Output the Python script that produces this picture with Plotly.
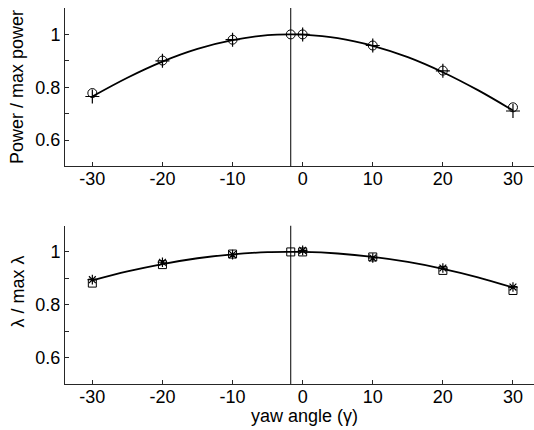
import plotly.graph_objects as go
from plotly.subplots import make_subplots

# Measured yaw angles (degrees) and normalised results
yaw = [-30, -20, -10, 0, 10, 20, 30]
power_circle = [0.778, 0.901, 0.980, 1.000, 0.958, 0.863, 0.724]
power_plus = [0.765, 0.900, 0.980, 1.000, 0.958, 0.862, 0.710]
lambda_square = [0.882, 0.952, 0.992, 1.000, 0.981, 0.930, 0.854]
lambda_star = [0.895, 0.961, 0.990, 1.006, 0.977, 0.939, 0.867]

# Yaw angle of the optimum and its normalised values
yaw_peak = -1.7
power_peak = 1.0
lambda_peak = 1.0

# Fitted curves sampled along the yaw axis
fit_yaw = [-30, -25, -20, -15, -10, -5, -1.7, 0, 5, 10, 15, 20, 25, 30]
power_fit = [0.765, 0.836, 0.897, 0.945, 0.978, 0.997, 1.000, 0.999,
             0.986, 0.957, 0.914, 0.857, 0.789, 0.712]
lambda_fit = [0.892, 0.926, 0.954, 0.976, 0.991, 0.999, 1.000, 1.000,
              0.994, 0.981, 0.962, 0.936, 0.904, 0.865]

y_tickvals = [0.6, 0.8, 1.0]
y_ticktext = ["0.6", "0.8", "1"]
x_tickvals = [-30, -20, -10, 0, 10, 20, 30]
x_ticktext = ["-30", "-20", "-10", "0", "10", "20", "30"]

FONT = "Liberation Sans, Arial, Helvetica, sans-serif"
AX = "#262626"

fig = make_subplots(rows=2, cols=1, vertical_spacing=0.157)

# Top panel: power ratio
fig.add_trace(go.Scatter(x=fit_yaw, y=power_fit, mode="lines", line_shape="spline",
                         line=dict(color="black", width=1.8)), row=1, col=1)
fig.add_trace(go.Scatter(x=yaw, y=power_plus, mode="markers",
                         marker=dict(symbol="cross-thin-open", size=10, color="black",
                                     line=dict(color="black", width=1.2))), row=1, col=1)
fig.add_trace(go.Scatter(x=yaw + [yaw_peak], y=power_circle + [power_peak], mode="markers",
                         marker=dict(symbol="circle-open", size=9, color="black",
                                     line=dict(color="black", width=1))), row=1, col=1)

# Bottom panel: tip speed ratio
fig.add_trace(go.Scatter(x=fit_yaw, y=lambda_fit, mode="lines", line_shape="spline",
                         line=dict(color="black", width=1.8)), row=2, col=1)
fig.add_trace(go.Scatter(x=yaw, y=lambda_star, mode="markers",
                         marker=dict(symbol="asterisk-open", size=8, color="black",
                                     line=dict(color="black", width=1.2))), row=2, col=1)
fig.add_trace(go.Scatter(x=yaw + [yaw_peak], y=lambda_square + [lambda_peak], mode="markers",
                         marker=dict(symbol="square-open", size=8, color="black",
                                     line=dict(color="black", width=1))), row=2, col=1)

# Vertical line through the optimum yaw angle in both panels
for r in (1, 2):
    fig.add_shape(type="line", x0=yaw_peak, x1=yaw_peak, y0=0.5, y1=1.1,
                  line=dict(color="black", width=1), row=r, col=1)

axis_common = dict(showline=True, linecolor=AX, linewidth=1, mirror=False,
                   showgrid=False, zeroline=False, ticks="inside", ticklen=4,
                   tickcolor=AX, tickfont=dict(family=FONT, size=18, color="black"))

for r in (1, 2):
    fig.update_xaxes(range=[-33.9, 33.0], tickvals=x_tickvals, ticktext=x_ticktext,
                     ticklabelstandoff=-4, **axis_common, row=r, col=1)
    fig.update_yaxes(range=[0.5, 1.1], tickvals=y_tickvals, ticktext=y_ticktext,
                     minor=dict(ticks="inside", tickvals=[0.7, 0.9], ticklen=4,
                                tickcolor=AX, showgrid=False),
                     **axis_common, row=r, col=1)

fig.update_layout(
    width=534, height=430,
    margin=dict(l=65, r=0, t=8, b=46),
    plot_bgcolor="white", paper_bgcolor="white",
    showlegend=False,
    font=dict(family=FONT, size=18, color="black"),
    annotations=[
        dict(text="Power / max power", xref="paper", yref="paper", x=-0.1023, y=0.79,
             xanchor="center", yanchor="middle", textangle=-90, showarrow=False,
             font=dict(family=FONT, size=18, color="black")),
        dict(text="λ / max λ", xref="paper", yref="paper", x=-0.1023, y=0.246,
             xanchor="center", yanchor="middle", textangle=-90, showarrow=False,
             font=dict(family=FONT, size=18, color="black")),
        dict(text="yaw angle (γ)", xref="paper", yref="paper", x=0.5117, y=-0.086,
             xanchor="center", yanchor="middle", showarrow=False,
             font=dict(family=FONT, size=18, color="black")),
    ],
)

fig.write_html("out.html")
